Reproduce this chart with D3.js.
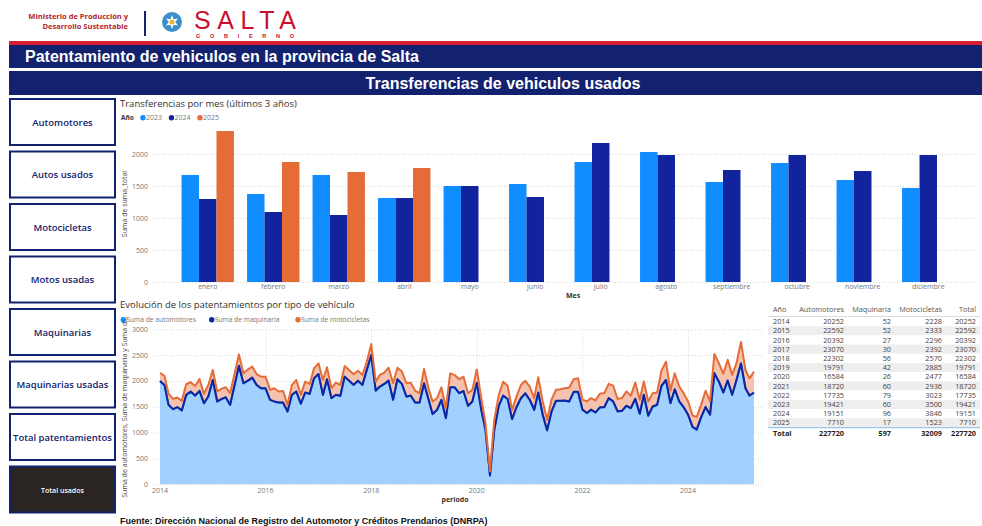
<!DOCTYPE html>
<html lang="es">
<head>
<meta charset="UTF-8">
<title>Patentamiento de vehiculos en la provincia de Salta</title>
<script src="https://d3js.org/d3.v7.min.js"></script>
<style>
  body { margin: 0; background: #fff; }
  svg text { font-family: "Open Sans", "Noto Sans", sans-serif; }
  .grid line { stroke: #d6d6d6; stroke-dasharray: 1,2; }
  .grid path { display: none; }
  .tick-lbl { fill: #777; font-size: 7px; }
</style>
</head>
<body>
<script>
// ---- data ----
const meses = ["enero","febrero","marzo","abril","mayo","junio","julio","agosto","septiembre","octubre","noviembre","diciembre"];
const anios = ["2023","2024","2025"];
const transf2023 = [1672,1375,1672,1312,1500,1531,1875,2031,1562,1859,1594,1469];
const transf2024 = [1297,1094,1047,1312,1500,1328,2172,1984,1750,1984,1734,1984];
const transf2025 = [2359,1875,1719,1781];

// monthly series Jan 2014 .. Apr 2025
const automotores = [
  1996,1919,1534,1451,1490,1426,1727,1791,1714,1804,1566,1695,
  2015,1599,1643,1682,1534,1919,2291,1951,2002,2060,1919,1855,
  1857,1633,1601,1581,1581,1408,1729,1793,1556,1774,1748,2049,
  2133,1729,2030,1665,1729,1710,2081,2004,1921,2004,1921,2210,
  2496,1810,1887,1938,2002,1631,2028,1938,1695,1714,1579,1579,
  1951,1643,1355,1438,1631,1278,1874,1874,1759,1804,1515,1599,
  1964,1438,1054,171,1054,1515,1714,1650,1259,1490,1663,1759,
  1631,1438,1772,1342,1041,1406,1611,1611,1618,1599,1784,1784,
  1438,1374,1438,1387,1483,1490,1663,1599,1406,1419,1515,1470,
  1650,1361,1727,1323,1502,1534,1900,2015,1566,1836,1599,1490,
  1342,1105,1054,1297,1490,1342,2144,1983,1772,2002,1727,2015,
  2336,1855,1714,1772
];
const maquinaria = [
  4,5,4,4,5,4,4,5,4,5,4,4,
  4,5,4,4,5,4,4,5,4,5,4,4,
  2,2,3,2,2,2,3,2,3,2,2,2,
  3,2,3,2,3,2,3,2,3,2,3,2,
  5,4,5,4,5,5,4,5,5,4,5,5,
  4,3,4,3,4,3,4,3,4,3,4,3,
  2,3,2,0,2,2,3,2,3,2,3,2,
  5,5,5,5,5,5,5,5,5,5,5,5,
  7,6,7,6,7,7,6,7,7,6,7,6,
  5,5,5,5,5,5,5,5,5,5,5,5,
  8,8,8,8,8,8,8,8,8,8,8,8,
  4,5,4,4
];
const motocicletas = [
  160,173,212,199,186,185,205,179,186,230,180,224,
  193,192,199,192,225,224,218,192,218,212,205,224,
  224,192,256,212,225,128,192,224,173,211,192,193,
  205,288,231,192,237,211,205,206,205,193,192,160,
  212,173,224,218,250,320,224,238,256,250,225,180,
  276,212,244,225,243,192,269,237,269,275,244,225,
  256,225,128,83,192,212,269,256,179,205,256,243,
  256,225,294,257,205,225,212,225,237,269,244,263,
  193,225,225,231,263,269,275,301,238,244,276,238,
  314,270,256,276,257,238,295,353,244,307,288,269,
  257,218,243,237,314,257,371,353,359,398,384,321,
  416,353,333,404
];

// table
const tablaAnios = ["2014","2015","2016","2017","2018","2019","2020","2021","2022","2023","2024","2025"];
const tablaAuto = [20252,22592,20392,23070,22302,19791,16584,18720,17735,19421,19151,7710];
const tablaMaq = [52,52,27,30,56,42,26,60,79,60,96,17];
const tablaMoto = [2228,2333,2296,2392,2570,2885,2477,2936,3023,3500,3846,1523];
const tablaTotal = [20252,22592,20392,23070,22302,19791,16584,18720,17735,19421,19151,7710];
const totales = ["Total","227720","597","32009","227720"];

const botones = ["Automotores","Autos usados","Motocicletas","Motos usadas","Maquinarias","Maquinarias usadas","Total patentamientos","Total usados"];

const navy = "#13226e";
const colAnio = {"2023":"#118DFF","2024":"#12239E","2025":"#E66C37"};

const svg = d3.select("body").append("svg").attr("width", 982).attr("height", 526);

// ---- header ----
const hdr = svg.append("g");
hdr.append("text").attr("x", 128).attr("y", 19).attr("text-anchor", "end")
   .attr("fill", "#b3262e").style("font-size", "7.5px").style("font-weight", "bold")
   .text("Ministerio de Producción y");
hdr.append("text").attr("x", 128).attr("y", 29).attr("text-anchor", "end")
   .attr("fill", "#b3262e").style("font-size", "7.5px").style("font-weight", "bold")
   .text("Desarrollo Sustentable");
hdr.append("line").attr("x1", 145).attr("x2", 145).attr("y1", 11).attr("y2", 36)
   .attr("stroke", navy).attr("stroke-width", 2);
hdr.append("circle").attr("cx", 172).attr("cy", 22).attr("r", 10).attr("fill", "#3d8ec9");
const star = d3.range(12).map(i => {
  const r = i % 2 ? 3.2 : 7;
  const a = i * Math.PI / 6 - Math.PI / 2;
  return [172 + r * Math.cos(a), 22 + r * Math.sin(a)];
});
hdr.append("path").attr("d", d3.line()(star) + "Z").attr("fill", "#fff");
hdr.append("circle").attr("cx", 172).attr("cy", 22).attr("r", 2.5).attr("fill", "#e9b82a");
hdr.append("text").attr("x", 194).attr("y", 29).attr("fill", "#c8102e")
   .style("font-family", "Liberation Sans, Arial, sans-serif").style("font-size", "25px")
   .attr("textLength", 102).text("SALTA");
hdr.append("text").attr("x", 196).attr("y", 37.5).attr("fill", "#c8102e")
   .style("font-family", "Liberation Sans, Arial, sans-serif").style("font-size", "5.5px")
   .style("font-weight", "bold").attr("textLength", 98).text("GOBIERNO");
svg.append("rect").attr("x", 9).attr("y", 41).attr("width", 973).attr("height", 4).attr("fill", "#d71f30");

svg.append("rect").attr("x", 9).attr("y", 45).attr("width", 973).attr("height", 23).attr("fill", navy);
svg.append("text").attr("x", 25).attr("y", 61.5).attr("fill", "#fff")
   .style("font-family", "Liberation Sans, Arial, sans-serif").style("font-size", "16px").style("font-weight", "bold")
   .text("Patentamiento de vehiculos en la provincia de Salta");
svg.append("rect").attr("x", 9).attr("y", 71).attr("width", 973).attr("height", 24).attr("fill", navy);
svg.append("text").attr("x", 503).attr("y", 88.5).attr("text-anchor", "middle").attr("fill", "#fff")
   .style("font-family", "Liberation Sans, Arial, sans-serif").style("font-size", "16px").style("font-weight", "bold")
   .text("Transferencias de vehiculos usados");

// ---- side buttons ----
const btn = svg.append("g").selectAll("g").data(botones).join("g")
  .attr("transform", (d, i) => `translate(10,${99 + i * 52.5})`);
btn.append("rect").attr("width", 105).attr("height", 46)
  .attr("fill", (d, i) => i === botones.length - 1 ? "#2a2522" : "#fff")
  .attr("stroke", navy).attr("stroke-width", 2);
btn.append("text").attr("x", 52.5).attr("y", 26.5).attr("text-anchor", "middle")
  .attr("fill", (d, i) => i === botones.length - 1 ? "#fff" : navy)
  .style("font-size", (d, i) => i === botones.length - 1 ? "7px" : "9.5px")
  .style("font-weight", "600").text(d => d);

// ---- bar chart ----
const bar = svg.append("g");
bar.append("text").attr("x", 120).attr("y", 107).attr("fill", "#333").style("font-size", "9.5px")
   .text("Transferencias por mes (últimos 3 años)");
bar.append("text").attr("x", 121).attr("y", 120).attr("fill", "#333").style("font-size", "6.5px")
   .style("font-weight", "bold").text("Año");
anios.forEach((a, i) => {
  const lx = 143 + i * 28.5;
  bar.append("circle").attr("cx", lx).attr("cy", 117.7).attr("r", 2.7).attr("fill", colAnio[a]);
  bar.append("text").attr("x", lx + 3).attr("y", 120.3).attr("fill", "#777").style("font-size", "7px").text(a);
});

const transf = [transf2023, transf2024, transf2025];
const barData = meses.map((m, i) => ({ mes: m, vals: anios.map((a, k) => ({ anio: a, v: transf[k][i] })).filter(d => d.v != null) }));

const x0 = d3.scaleBand().domain(meses).range([175, 961]).paddingInner(0.2).paddingOuter(0.1);
const x1 = d3.scaleBand().domain(anios).range([0, x0.bandwidth()]);
const yB = d3.scaleLinear().domain([0, 2500]).range([282, 122]);

bar.append("g").attr("class", "grid").attr("transform", "translate(153,0)")
   .call(d3.axisLeft(yB).tickValues([0,500,1000,1500,2000]).tickSize(-822).tickFormat(""));
bar.append("g").selectAll("text").data([0,500,1000,1500,2000]).join("text")
   .attr("class", "tick-lbl").attr("x", 148).attr("y", d => yB(d) + 2.5).attr("text-anchor", "end").text(d => d);
bar.append("text").attr("transform", "translate(127,204) rotate(-90)").attr("text-anchor", "middle")
   .attr("fill", "#444").style("font-size", "7px").text("Suma de suma_total");

bar.append("g").selectAll("g").data(barData).join("g")
   .attr("transform", d => `translate(${x0(d.mes)},0)`)
   .selectAll("rect").data(d => d.vals).join("rect")
   .attr("x", d => x1(d.anio)).attr("width", x1.bandwidth())
   .attr("y", d => yB(d.v)).attr("height", d => yB(0) - yB(d.v))
   .attr("fill", d => colAnio[d.anio]);

bar.append("g").selectAll("text").data(meses).join("text")
   .attr("class", "tick-lbl").attr("x", d => x0(d) + x0.bandwidth() / 2).attr("y", 289)
   .attr("text-anchor", "middle").text(d => d);
bar.append("text").attr("x", 573).attr("y", 298).attr("text-anchor", "middle").attr("fill", "#333")
   .style("font-size", "7px").style("font-weight", "bold").text("Mes");

// ---- stacked area chart ----
const area = svg.append("g");
area.append("text").attr("x", 120).attr("y", 308).attr("fill", "#333").style("font-size", "9.5px")
    .text("Evolución de los patentamientos por tipo de vehículo");
const serieNom = ["Suma de automotores","Suma de maquinaria","Suma de motocicletas"];
const serieCol = ["#118DFF","#12239E","#E66C37"];
const legX = [123.3, 211.7, 298];
serieNom.forEach((s, i) => {
  area.append("circle").attr("cx", legX[i]).attr("cy", 319.7).attr("r", 2.7).attr("fill", serieCol[i]);
  area.append("text").attr("x", legX[i] + 3).attr("y", 322.2).attr("fill", "#777").style("font-size", "6.7px").text(s);
});

const serie = automotores.map((v, i) => ({
  fecha: new Date(2014, i, 1), auto: v, maq: maquinaria[i], moto: motocicletas[i]
}));
const xT = d3.scaleTime().domain([new Date(2014, 0, 1), new Date(2025, 3, 1)]).range([160, 754]);
const yA = d3.scaleLinear().domain([0, 3000]).range([484.3, 329.3]);

area.append("g").attr("class", "grid").attr("transform", "translate(155,0)")
    .call(d3.axisLeft(yA).tickValues([0,500,1000,1500,2000,2500,3000]).tickSize(-607).tickFormat(""));
const xTicks = [2014,2016,2018,2020,2022,2024].map(y => new Date(y, 0, 1));
area.append("g").attr("class", "grid").attr("transform", "translate(0,484.3)")
    .call(d3.axisTop(xT).tickValues(xTicks.slice(1)).tickSize(155).tickFormat(""));
area.append("g").selectAll("text").data([0,500,1000,1500,2000,2500,3000]).join("text")
    .attr("class", "tick-lbl").attr("x", 148).attr("y", d => yA(d) + 2.5).attr("text-anchor", "end").text(d => d);
area.append("g").selectAll("text").data(xTicks).join("text")
    .attr("class", "tick-lbl").attr("x", d => xT(d)).attr("y", 493).attr("text-anchor", "middle")
    .text(d => d.getFullYear());
area.append("text").attr("x", 455).attr("y", 502).attr("text-anchor", "middle").attr("fill", "#333")
    .style("font-size", "7px").style("font-weight", "bold").text("periodo");
area.append("text").attr("transform", "translate(127,407) rotate(-90)").attr("text-anchor", "middle")
    .attr("fill", "#444").style("font-size", "7px")
    .text("Suma de automotores, Suma de maquinaria y Suma d...");

const stack = d3.stack().keys(["auto","maq","moto"])(serie);
const areaGen = d3.area().x(d => xT(d.data.fecha)).y0(d => yA(d[0])).y1(d => yA(d[1]));
const lineGen = d3.line().x(d => xT(d.data.fecha)).y(d => yA(d[1]));
const fills = ["#a2d1ff","#8790c8","#f5c3ad"];
area.append("g").selectAll("path").data(stack).join("path")
    .attr("d", areaGen).attr("fill", (d, i) => fills[i]);
area.append("g").selectAll("path").data(stack).join("path")
    .attr("d", lineGen).attr("fill", "none").attr("stroke", (d, i) => serieCol[i])
    .attr("stroke-width", 2).attr("stroke-linejoin", "round");

// ---- table ----
const tab = svg.append("g").style("font-size", "7.3px");
const colX = [773, 844, 891, 942, 976];
const heads = ["Año","Automotores","Maquinaria","Motocicletas","Total"];
heads.forEach((h, i) => {
  tab.append("text").attr("x", colX[i]).attr("y", 312)
     .attr("text-anchor", i === 0 ? "start" : "end").attr("fill", "#555").text(h);
});
tab.append("line").attr("x1", 768).attr("x2", 980).attr("y1", 316.5).attr("y2", 316.5).attr("stroke", "#ccc").attr("stroke-width", 0.7);
const filas = tablaAnios.map((a, i) => [a, tablaAuto[i], tablaMaq[i], tablaMoto[i], tablaTotal[i]]);
const fila = tab.selectAll("g.fila").data(filas).join("g").attr("class", "fila")
  .attr("transform", (d, i) => `translate(0,${317 + i * 9.2})`);
fila.append("rect").attr("x", 768).attr("width", 212).attr("height", 9.2)
  .attr("fill", (d, i) => i % 2 ? "#eeeeee" : "#fff");
fila.selectAll("text").data(d => d).join("text")
  .attr("x", (d, i) => colX[i]).attr("y", 7.2).attr("text-anchor", (d, i) => i === 0 ? "start" : "end")
  .attr("fill", "#444").text(d => d);
tab.append("line").attr("x1", 768).attr("x2", 980).attr("y1", 427.7).attr("y2", 427.7).attr("stroke", "#9cc6ec").attr("stroke-width", 1.2);
tab.selectAll("text.tot").data(totales).join("text").attr("class", "tot")
  .attr("x", (d, i) => colX[i]).attr("y", 435.5).attr("text-anchor", (d, i) => i === 0 ? "start" : "end")
  .attr("fill", "#222").style("font-weight", "bold").text(d => d);

// ---- footer ----
const pie = svg.append("text").attr("x", 120).attr("y", 524)
  .style("font-family", "Liberation Sans, Arial, sans-serif").style("font-size", "9px").style("font-weight", "bold").attr("fill", "#111");
pie.append("tspan").text("Fuente: ");
pie.append("tspan").text("Dirección Nacional de Registro del Automotor y Créditos Prendarios (DNRPA)");
</script>
</body>
</html>
